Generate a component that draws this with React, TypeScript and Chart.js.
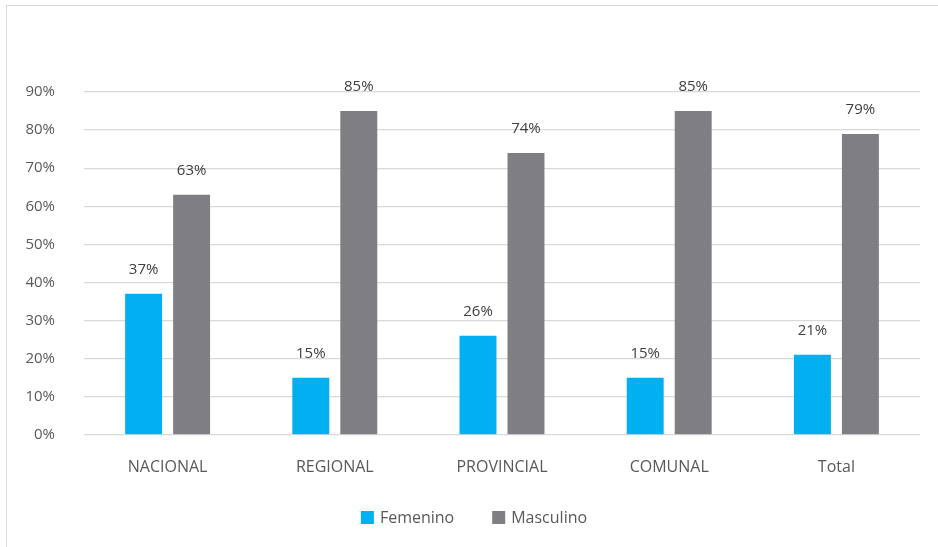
import React, { useEffect, useRef } from "react";
import { Chart, registerables } from "chart.js";

Chart.register(...registerables);

const categories = ["NACIONAL", "REGIONAL", "PROVINCIAL", "COMUNAL", "Total"];
const femenino = [37, 15, 26, 15, 21];
const masculino = [63, 85, 74, 85, 79];
const seriesNames = ["Femenino", "Masculino"];
const seriesColors = ["#00B0F0", "#7F7F83"];
const yTicks = { min: 0, max: 90, step: 10 };

const FONT = "'Open Sans', 'DejaVu Sans', sans-serif";
const TEXT = "#595959";

const labelsPlugin = {
  id: "valueLabels",
  afterDatasetsDraw(chart: any) {
    const ctx = chart.ctx;
    ctx.save();
    ctx.font = `15px ${FONT}`;
    ctx.fillStyle = "#404040";
    ctx.textAlign = "center";
    ctx.textBaseline = "middle";
    chart.data.datasets.forEach((ds: any, i: number) => {
      const meta = chart.getDatasetMeta(i);
      meta.data.forEach((el: any, j: number) => {
        ctx.fillText(ds.data[j] + "%", el.x, el.y - 24);
      });
    });
    ctx.restore();
  },
};

const legendPlugin = {
  id: "customLegend",
  afterDraw(chart: any) {
    const ctx = chart.ctx;
    ctx.save();
    ctx.font = `16px ${FONT}`;
    ctx.textBaseline = "middle";
    ctx.textAlign = "left";
    const box = 13;
    const textGap = 6;
    const itemGap = 38;
    const widths = chart.data.datasets.map((ds: any) => box + textGap + ctx.measureText(ds.label).width);
    const total = widths.reduce((a: number, b: number) => a + b, 0) + itemGap * (widths.length - 1);
    let x = chart.width / 2 + 5 - total / 2;
    const cy = 517.5;
    chart.data.datasets.forEach((ds: any, i: number) => {
      ctx.fillStyle = ds.backgroundColor;
      ctx.fillRect(x, cy - box / 2, box, box);
      ctx.fillStyle = TEXT;
      ctx.fillText(ds.label, x + box + textGap, cy + 1);
      x += widths[i] + itemGap;
    });
    ctx.restore();
  },
};

export default function App() {
  const ref = useRef<HTMLCanvasElement>(null);
  useEffect(() => {
    if (!ref.current) return;
    const chart = new Chart(ref.current, {
      type: "bar",
      data: {
        labels: categories,
        datasets: [
          {
            label: seriesNames[0],
            data: femenino,
            backgroundColor: seriesColors[0],
            categoryPercentage: 0.574,
            barPercentage: 0.77,
          },
          {
            label: seriesNames[1],
            data: masculino,
            backgroundColor: seriesColors[1],
            categoryPercentage: 0.574,
            barPercentage: 0.77,
          },
        ],
      },
      options: {
        animation: false,
        responsive: false,
        maintainAspectRatio: false,
        layout: { padding: { left: 0, right: 18, top: 92, bottom: 47 } },
        plugins: {
          legend: { display: false },
          tooltip: { enabled: false },
        },
        scales: {
          x: {
            grid: { display: false, drawTicks: false },
            border: { display: false },
            ticks: {
              color: TEXT,
              font: { family: FONT, size: 16 },
              padding: 23,
              maxRotation: 0,
            },
          },
          y: {
            min: yTicks.min,
            max: yTicks.max,
            afterFit: (scale: any) => {
              scale.width = 84;
            },
            grid: { color: "#D9D9D9", lineWidth: 1.3, drawTicks: false },
            border: { display: false },
            ticks: {
              stepSize: yTicks.step,
              color: TEXT,
              font: { family: FONT, size: 15 },
              padding: 29,
              callback: (v: any) => v + "%",
            },
          },
        },
      },
      plugins: [labelsPlugin, legendPlugin],
    });
    return () => chart.destroy();
  }, []);

  return (
    <div
      style={{
        position: "fixed",
        left: 0,
        top: 0,
        width: 938,
        height: 547,
        overflow: "hidden",
        background: "#fff",
      }}
    >
      <div
        style={{
          position: "absolute",
          left: 6,
          top: 5,
          width: 1000,
          height: 600,
          border: "1.5px solid #D9D9D9",
          boxSizing: "border-box",
        }}
      />
      <canvas ref={ref} width={938} height={547} style={{ position: "absolute", left: 0, top: 0 }} />
    </div>
  );
}
